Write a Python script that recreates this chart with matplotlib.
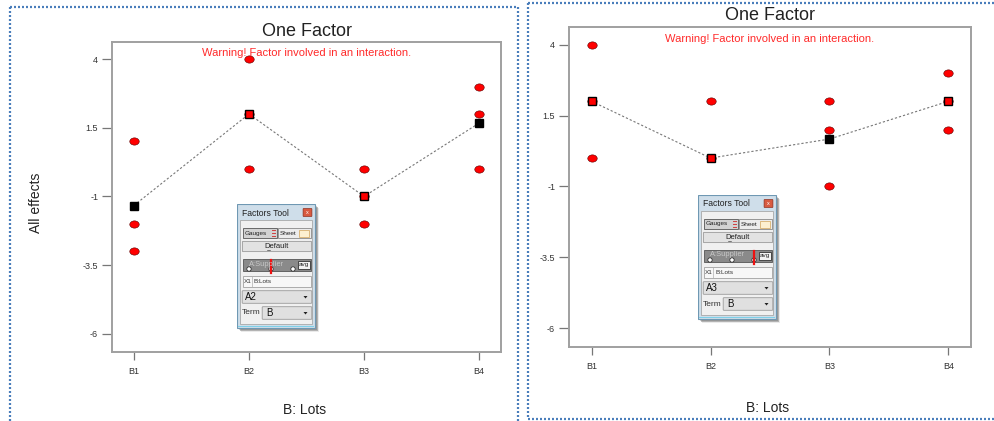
import matplotlib
matplotlib.use("Agg")
import matplotlib.pyplot as plt
from matplotlib.patches import Rectangle, FancyBboxPatch, Circle, Polygon
from matplotlib.lines import Line2D
from matplotlib.path import Path
from matplotlib.transforms import Affine2D

plt.rcParams['font.family'] = ['Liberation Sans', 'DejaVu Sans']
plt.rcParams['axes.unicode_minus'] = False

# data
levels = ["B1", "B2", "B3", "B4"]
y_ticks = [4, 1.5, -1, -3.5, -6]

left_points = [[1.0, -2.0, -3.0], [4.0, 2.0, 0.0], [0.0, -1.0, -2.0], [3.0, 2.0, 0.0]]
left_means = [-1.33, 2.0, -1.0, 1.67]
left_setting = "A2"

right_points = [[4.0, 2.0, 0.0], [2.0, 0.0], [2.0, 1.0, -1.0], [3.0, 2.0, 1.0]]
right_means = [2.0, 0.0, 0.67, 2.0]
right_setting = "A3"

supplier_levels = ["A1", "A2", "A3"]

W, H = 994, 421
fig = plt.figure(figsize=(W / 100, H / 100), dpi=100)

# slightly flattened dot like the original
ellipse = Path.unit_circle().transformed(Affine2D().scale(1.3, 1.0))


def px_axes(x0, y0, x1, y1):
    return fig.add_axes([x0 / W, 1 - y1 / H, (x1 - x0) / W, (y1 - y0) / H])


def one_factor(ax, points, means):
    xs = range(1, len(levels) + 1)
    for x, pts in zip(xs, points):
        ax.plot([x] * len(pts), pts, linestyle='none', marker=ellipse, markersize=6.8,
                markerfacecolor='#ff0000', markeredgecolor='#5a0000', markeredgewidth=0.4, zorder=3)
    ax.plot(list(xs), means, color='#777777', lw=0.8, linestyle=(0, (2, 1.8)), zorder=2)
    for x, m, pts in zip(xs, means, points):
        hit = any(abs(p - m) < 0.05 for p in pts)
        ax.plot([x], [m], marker='s', markersize=5.2, linestyle='none',
                markerfacecolor='#ff0000' if hit else 'black', markeredgecolor='black',
                markeredgewidth=1.0, zorder=4)
    ax.set_xlim(0.81, 4.19)
    ax.set_ylim(-6.66, 4.62)
    ax.set_xticks(list(xs))
    ax.set_xticklabels(levels)
    ax.set_yticks(y_ticks)
    ax.set_yticklabels(['%g' % t for t in y_ticks])
    for s in ax.spines.values():
        s.set_color('#a0a0a0')
        s.set_linewidth(1.4)
    ax.tick_params(axis='y', length=7, width=0.9, color='#777777', labelsize=6.5,
                   labelcolor='#333333', pad=3)
    ax.tick_params(axis='x', length=6, width=0.9, color='#777777', labelsize=6.5,
                   labelcolor='#333333', pad=5)
    ax.text(0.5, 0.964, "Warning! Factor involved in an interaction.", transform=ax.transAxes,
            ha='center', va='center', fontsize=8, color='#ff2a2a')


def factors_tool(x0, y0, setting):
    w, h = 78, 124
    ax = px_axes(x0, y0, x0 + w + 6, y0 + h + 6)
    ax.set_xlim(0, w + 6)
    ax.set_ylim(h + 6, 0)
    ax.axis('off')
    # shadow
    for i, a in enumerate([0.10, 0.14, 0.18, 0.22]):
        ax.add_patch(Rectangle((4 - i * 0.6, 4 - i * 0.6), w, h, fc='#333333', ec='none', alpha=a))
    ax.add_patch(Rectangle((0, 0), w, h, fc='#cfdeea', ec='#6f98b3', lw=0.8))
    ax.add_patch(Rectangle((0.6, h - 2.2), w - 1.2, 1.6, fc='#7fd0e8', ec='none'))
    ax.text(5, 9, "Factors Tool", fontsize=6.2, color='#222222', va='center', ha='left')
    ax.add_patch(FancyBboxPatch((66.5, 5), 8, 7, boxstyle='round,pad=0.4',
                                fc='#d85a40', ec='#8c2c1c', lw=0.5))
    ax.text(70.5, 8.5, "x", fontsize=4, color='white', ha='center', va='center')
    ax.add_patch(Rectangle((3, 16), w - 6, h - 20, fc='#f0f0f0', ec='#a8a8a8', lw=0.6))
    # gauges / sheet
    ax.add_patch(Rectangle((6, 24), 34, 10, fc='#d2d2d2', ec='#555555', lw=0.6))
    ax.text(7.5, 29, "Gauges", fontsize=4.6, color='#222222', va='center')
    for yy in (26, 29, 32):
        ax.plot([34.5, 37.5], [yy, yy], color='#d04040', lw=0.7)
    ax.add_patch(Rectangle((41, 24), 33, 10, fc='#ececec', ec='#888888', lw=0.6))
    ax.text(43, 29, "Sheet", fontsize=4.6, color='#222222', va='center')
    ax.add_patch(Rectangle((62, 25.5), 10, 7, fc='#fdf0d0', ec='#d8b070', lw=0.6))
    # default
    ax.add_patch(FancyBboxPatch((6, 38), 68, 9, boxstyle='round,pad=0.6',
                                fc='#e2e2e2', ec='#9a9a9a', lw=0.6))
    ax.text(40, 42.6, "Default", fontsize=5.5, color='#222222', ha='center', va='center')
    ax.plot([29.8, 33.2], [45.6, 45.6], color='#222222', lw=0.4)
    # slider
    circles = [12, 34, 56]
    ax.add_patch(Rectangle((6, 55), 68, 12, fc='#8a8a8a', ec='#555555', lw=0.6))
    ax.text(30, 60, "A:Supplier", fontsize=5.4, color='#c8c8c8', ha='center', va='center')
    ax.add_patch(Rectangle((61, 56.5), 12, 8, fc='#f2f2f2', ec='#333333', lw=0.6))
    ax.text(67, 60.5, "avg", fontsize=4.6, color='#222222', ha='center', va='center')
    for cx in circles:
        ax.add_patch(Circle((cx, 65), 2.2, fc='white', ec='#333333', lw=0.6))
    mx = circles[supplier_levels.index(setting)]
    ax.plot([mx, mx], [56, 69], color='#ee1111', lw=1.6)
    # x1 field
    ax.add_patch(Rectangle((6, 72), 68, 11, fc='#f7f7f7', ec='#a0a0a0', lw=0.6))
    ax.plot([15, 15], [72, 83], color='#b0b0b0', lw=0.5)
    ax.text(7, 77.5, "X1", fontsize=4.6, color='#333333', va='center')
    ax.text(17, 77.5, "B:Lots", fontsize=4.6, color='#333333', va='center')
    # level dropdown
    ax.add_patch(FancyBboxPatch((6, 87.5), 68, 11, boxstyle='round,pad=0.8',
                                fc='#e0e0e0', ec='#9a9a9a', lw=0.6))
    ax.text(8, 93, setting, fontsize=7, color='#111111', va='center')
    ax.add_patch(Polygon([[66.5, 92], [70.5, 92], [68.5, 94.5]], closed=True, fc='#222222', ec='none'))
    # term dropdown
    ax.text(5, 109, "Term", fontsize=6, color='#333333', va='center')
    ax.add_patch(FancyBboxPatch((26, 103.5), 48, 11, boxstyle='round,pad=0.8',
                                fc='#e0e0e0', ec='#9a9a9a', lw=0.6))
    ax.text(29, 109, "B", fontsize=7, color='#111111', va='center')
    ax.add_patch(Polygon([[66.5, 108], [70.5, 108], [68.5, 110.5]], closed=True, fc='#222222', ec='none'))


def dotted(xs, ys):
    fig.add_artist(Line2D([x / W for x in xs], [1 - y / H for y in ys], transform=fig.transFigure,
                          color='#4a7ebb', lw=1.6, linestyle=(0, (0.9, 0.9))))


# left panel
ax1 = px_axes(112, 42, 501, 352)
one_factor(ax1, left_points, left_means)
ax1.text(0.5, 1 + 11 / 310, "One Factor", transform=ax1.transAxes, ha='center', va='center',
         fontsize=13, color='#222222')
fig.text(36 / W, 1 - 203 / H, "All effects", rotation=90, ha='center', va='center',
         fontsize=10, color='#222222')
fig.text(305 / W, 1 - 410 / H, "B: Lots", ha='center', va='center', fontsize=10, color='#222222')
factors_tool(237, 204, left_setting)

# right panel
ax2 = px_axes(569, 27, 971, 347)
one_factor(ax2, right_points, right_means)
ax2.text(0.5, 1 + 11.5 / 320, "One Factor", transform=ax2.transAxes, ha='center', va='center',
         fontsize=13, color='#222222')
fig.text(768 / W, 1 - 408 / H, "B: Lots", ha='center', va='center', fontsize=10, color='#222222')
factors_tool(698, 195, right_setting)

# dotted frames around the two screenshots
dotted([10, 518], [7, 7])
dotted([10, 10], [7, 421])
dotted([518, 518], [7, 421])
dotted([528, 994], [3, 3])
dotted([528, 528], [3, 419])
dotted([528, 994], [419, 419])

fig.savefig("out.png", dpi=100)
